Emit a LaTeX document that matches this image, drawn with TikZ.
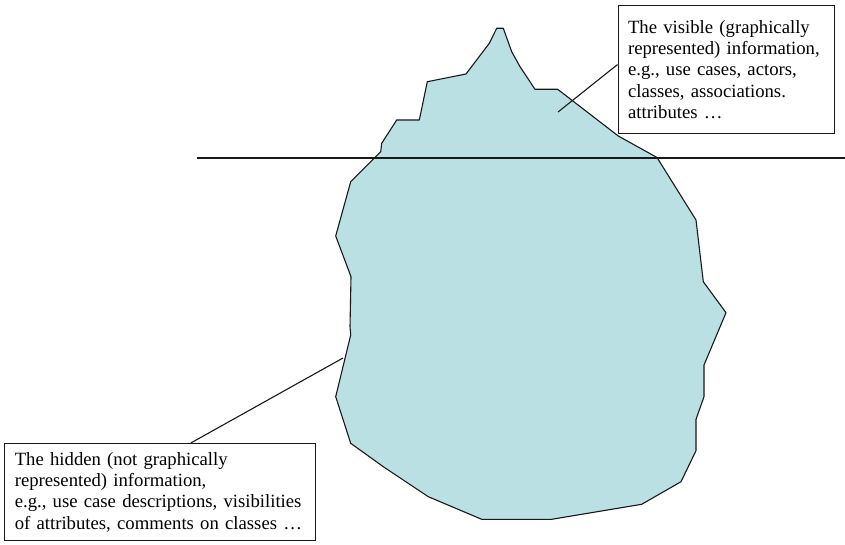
\documentclass[tikz,border=0pt]{standalone}
\usepackage{fontspec}
\setmainfont{Liberation Serif}
\definecolor{ice}{RGB}{187,224,227}
\definecolor{edge}{RGB}{25,25,25}
\tikzset{
  callout/.style={draw=edge, line width=1.1pt, fill=white, align=left, anchor=north west,
    font=\fontsize{18.7}{21.4}\selectfont, inner ysep=0pt},
  pointer/.style={draw=edge, line width=1.1pt},
}
\begin{document}
\begin{tikzpicture}[x=1pt,y=-1pt]
\useasboundingbox (0,0) rectangle (845,545);
% iceberg
\draw[fill=ice, draw=edge, line width=1.1pt, line join=round]
  (496.7,28.3) -- (503.3,28.3) -- (511.7,51.7) -- (520,66.7) -- (535,89.3) -- (557.7,89.3)
  -- (618.3,136) -- (657,157.5) -- (696,220) -- (703.3,281.7) -- (726,312.7) -- (704,365)
  -- (704,396.7) -- (696,419.3) -- (696,450.7) -- (681,481.7) -- (641.7,504.3)
  -- (551.7,519.3) -- (481.7,519.3) -- (428.3,496.7) -- (383.3,466.7) -- (350.7,443.3)
  -- (335.7,396.7) -- (350.7,335) -- (350,326.7) -- (351,276.7) -- (335.7,236)
  -- (350.7,181.7) -- (380.7,151.7) -- (381.7,143.3) -- (396.7,120) -- (419.3,120)
  -- (427.3,81.7) -- (466,74) -- (489.3,43.3) -- cycle;
% waterline
\coordinate (wl) at (197,158);
\coordinate (wr) at (845,158);
\draw[pointer] (wl) -- (wr);
% callouts
\node[callout, text width=196pt, inner xsep=10pt, minimum height=128pt] (top) at (617.5,5)
  {The visible (graphically\\represented) information,\\e.g., use cases, actors,\\classes, associations.\\attributes \dots};
\node[callout, text width=290pt, inner xsep=10.75pt, minimum height=97pt] (bot) at (3.5,443)
  {The hidden (not graphically\\represented) information,\\e.g., use case descriptions, visibilities\\of attributes, comments on classes \dots};
\coordinate (tp) at (558,112);
\coordinate (bp) at (343,358);
\draw[pointer] ([yshift=5pt]top.west) -- (tp);
\draw[pointer] ([xshift=31pt]bot.north) -- (bp);
\end{tikzpicture}
\end{document}
